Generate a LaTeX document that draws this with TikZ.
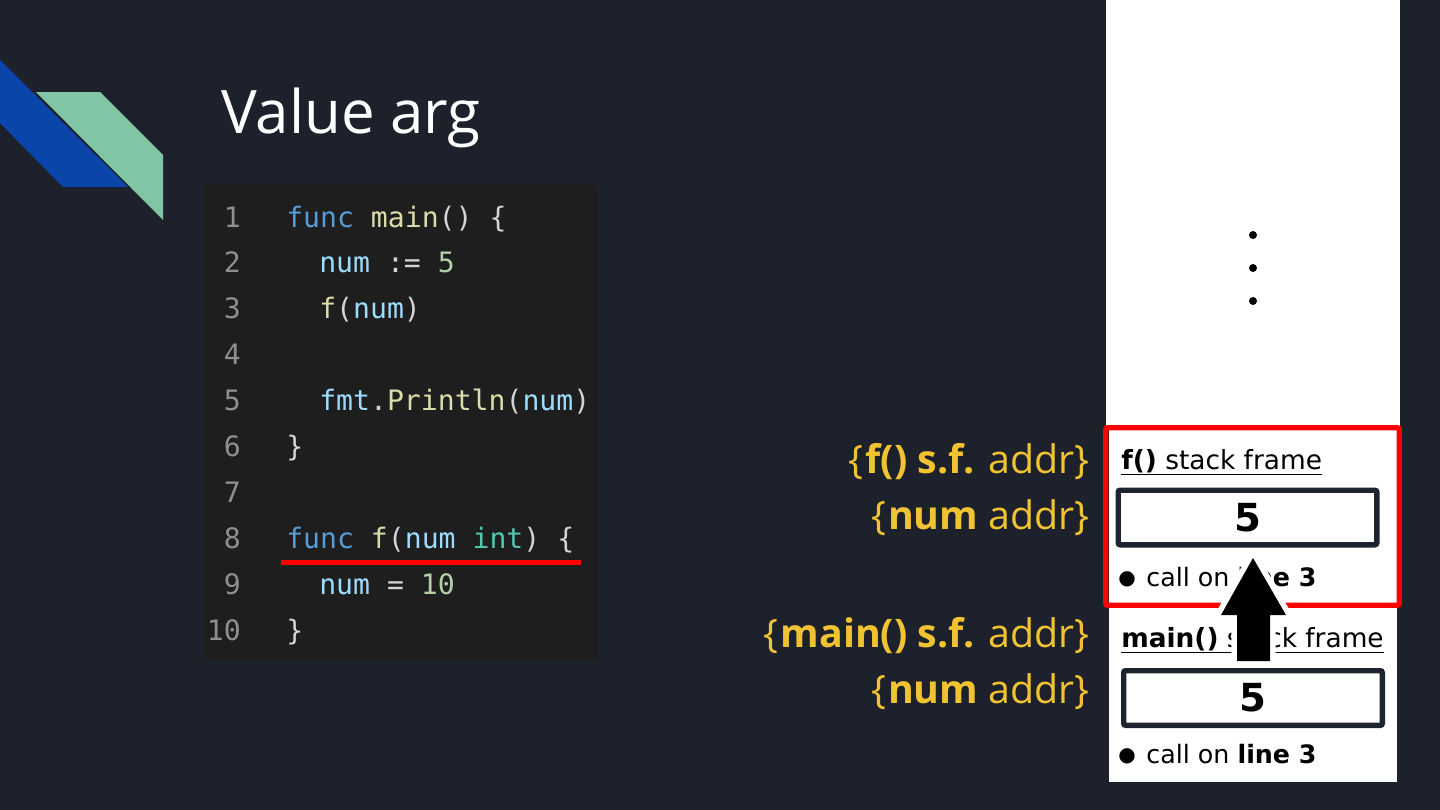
\documentclass[tikz,border=0pt]{standalone}
\usepackage{fontspec}
\setmainfont{Open Sans}
\setmonofont{DejaVu Sans Mono}
\newfontfamily\stackfont{DejaVu Sans}
\newfontfamily\symfont{DejaVu Sans}
\definecolor{bgcol}{HTML}{1C212B}
\definecolor{logoblue}{HTML}{0A46AA}
\definecolor{logogreen}{HTML}{80C6A5}
\definecolor{codebg}{HTML}{1E1E1E}
\definecolor{ckw}{HTML}{569CD6}
\definecolor{cfn}{HTML}{DCDCAA}
\definecolor{cvar}{HTML}{9CDCFE}
\definecolor{cnum}{HTML}{B5CEA8}
\definecolor{ctype}{HTML}{4EC9B0}
\definecolor{cpunct}{HTML}{D4D4D4}
\definecolor{clineno}{HTML}{8F8F8F}
\definecolor{lblyellow}{HTML}{F1C232}
\definecolor{boxdark}{HTML}{1E2330}
\definecolor{hired}{HTML}{FF0000}
\newcommand\codekw[1]{\textcolor{ckw}{#1}}
\newcommand\codefn[1]{\textcolor{cfn}{#1}}
\newcommand\codevar[1]{\textcolor{cvar}{#1}}
\newcommand\codenum[1]{\textcolor{cnum}{#1}}
\newcommand\codetype[1]{\textcolor{ctype}{#1}}
\newcommand\stackbullet{\raisebox{1.2pt}{\symfont\fontsize{15}{15}\selectfont ●}\hspace{8pt}}
\newcommand\lbrc{\{\hspace{1.5pt}}
\tikzset{
  codeline/.style={anchor=base west, inner sep=0pt, text=cpunct, font=\ttfamily\fontsize{21.1}{24}\selectfont},
  lineno/.style={anchor=base east, inner sep=0pt, text=clineno, font=\ttfamily\fontsize{21.1}{24}\selectfont},
  addrlabel/.style={anchor=base east, inner sep=0pt, text=lblyellow, font=\fontsize{29.5}{34}\selectfont},
  frametitle/.style={anchor=base west, inner sep=0pt, text=black, font=\stackfont\fontsize{19.8}{24}\selectfont},
  callnote/.style={anchor=base west, inner sep=0pt, text=black, font=\stackfont\fontsize{19}{23}\selectfont},
  valbox/.style={draw=boxdark, line width=4pt, fill=white, rounded corners=1.5pt, inner sep=0pt,
    minimum width=194pt, minimum height=41pt, font=\stackfont\bfseries\fontsize{29}{32}\selectfont, text=black},
}
\begin{document}
\begin{tikzpicture}[x=0.75pt,y=-0.75pt]
\fill[bgcol] (0,0) rectangle (1440,810);
\useasboundingbox (0,0) rectangle (1440,810);

% logo
\fill[logoblue] (0,60) -- (128,187) -- (63,187) -- (0,123) -- cycle;
\fill[logogreen] (36,92) -- (100,92) -- (163,155) -- (163,220) -- cycle;

% title
\node[anchor=base west, inner sep=0pt, text=white, font=\fontsize{45}{54}\selectfont] (title) at (221,133) {Value arg};

% code panel
\fill[codebg] (203,185) rectangle (598,660);
\foreach \n/\yy in {1/227,2/272.9,3/318.8,4/364.7,5/410.6,6/456.5,7/502.4,8/548.3,9/594.2,10/640.1}
  \node[lineno] (ln\n) at (241,\yy) {\n};
\node[codeline] (c1) at (286,227) {\codekw{func} \codefn{main}() \{};
\node[codeline] (c2) at (319,272.9) {\codevar{num} := \codenum{5}};
\node[codeline] (c3) at (319,318.8) {\codefn{f}(\codevar{num})};
\node[codeline] (c5) at (319,410.6) {\codevar{fmt}.\codefn{Println}(\codevar{num})};
\node[codeline] (c6) at (286,456.5) {\}};
\node[codeline] (c8) at (286,548.3) {\codekw{func} \codefn{f}(\codevar{num} \codetype{int}) \{};
\node[codeline] (c9) at (319,594.2) {\codevar{num} = \codenum{10}};
\node[codeline] (c10) at (286,640.1) {\}};
\draw[hired, line width=3.75pt] (281,562) -- (581,562);

% address labels
\node[addrlabel] (lf) at (1090,473) {\lbrc\textbf{f() s.f.} addr\}};
\node[addrlabel] (lfnum) at (1090,529) {\lbrc\textbf{num} addr\}};
\node[addrlabel] (lmain) at (1090,647) {\lbrc\textbf{main() s.f.} addr\}};
\node[addrlabel] (lmainnum) at (1090,703) {\lbrc\textbf{num} addr\}};

% stack panel
\fill[white] (1106,0) rectangle (1400,427);
\fill[white] (1109,427) rectangle (1397,782);
\foreach \yy in {235,268,301}
  \fill[black] (1253,\yy) circle (3pt);

% f() frame
\node[frametitle] (ftitle) at (1121,469) {\underline{\textbf{f()} stack frame}};
\node[valbox] (fval) at (1247.5,517.5) {5};
\node[callnote] (fcall) at (1118,586) {\stackbullet call on \textbf{line 3}};

% main() frame
\node[frametitle] (mtitle) at (1121,647) {\underline{\textbf{main()} stack frame}};
\node[valbox] (mval) at (1253,698) {5};
\node[callnote] (mcall) at (1118,763) {\stackbullet call on \textbf{line 3}};

% highlight of current frame
\draw[hired, line width=4.1pt, rounded corners=1.5pt] (1105.75,427.75) rectangle (1399.25,605.25);

% push arrow
\draw[white, line width=8.5pt, line join=round]
  (1253,558) -- (1286,615) -- (1270,615) -- (1270,661) -- (1237,661) -- (1237,615) -- (1221,615) -- cycle;
\fill[black]
  (1253,558) -- (1286,615) -- (1270,615) -- (1270,661) -- (1237,661) -- (1237,615) -- (1221,615) -- cycle;
\end{tikzpicture}
\end{document}
